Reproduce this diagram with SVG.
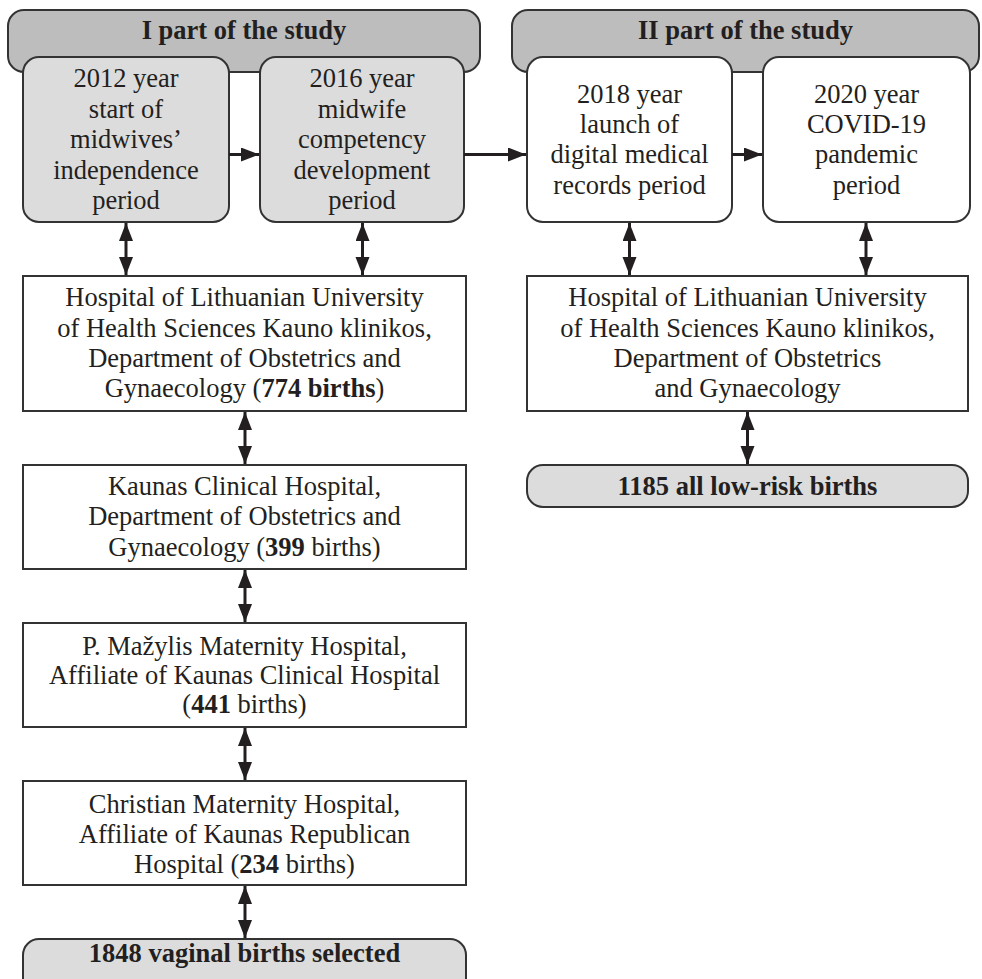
<svg xmlns="http://www.w3.org/2000/svg" width="982" height="979" viewBox="0 0 982 979">
<style>
  text { font-family: "Liberation Serif", "Times New Roman", serif; font-size: 26.5px; fill: #231f20; text-anchor: middle; }
  .b { font-weight: bold; }
  .hdr { fill: #bdbdbd; stroke: #333; stroke-width: 2; }
  .p1 { fill: #dcdcdd; stroke: #333; stroke-width: 2; }
  .p2 { fill: #ffffff; stroke: #333; stroke-width: 2; }
  .box { fill: #ffffff; stroke: #333; stroke-width: 2; }
  .res { fill: #dcdcdd; stroke: #333; stroke-width: 2; }
  .conn { stroke: #231f20; stroke-width: 3; fill: none; }
</style>
<defs>
  <marker id="ah" markerUnits="userSpaceOnUse" markerWidth="19" markerHeight="15" refX="18" refY="7" orient="auto-start-reverse">
    <path d="M0,0 L18,7 L0,14 z" fill="#231f20"/>
  </marker>
</defs>
<rect width="982" height="979" fill="#ffffff"/>

<g id="header1">
  <rect class="hdr" x="8" y="10" width="472" height="62" rx="16"/>
  <text class="b" x="244" y="39">I part of the study</text>
</g>
<g id="header2">
  <rect class="hdr" x="512" y="10" width="467" height="62" rx="16"/>
  <text class="b" x="745.5" y="39">II part of the study</text>
</g>

<g id="p2012">
  <rect class="p1" x="23" y="57" width="206" height="165" rx="16"/>
  <text x="126" y="87">2012 year</text>
  <text x="126" y="118">start of</text>
  <text x="126" y="148">midwives’</text>
  <text x="126" y="179">independence</text>
  <text x="126" y="209">period</text>
</g>
<g id="p2016">
  <rect class="p1" x="260" y="57" width="204" height="165" rx="16"/>
  <text x="362" y="87">2016 year</text>
  <text x="362" y="118">midwife</text>
  <text x="362" y="148">competency</text>
  <text x="362" y="179">development</text>
  <text x="362" y="209">period</text>
</g>
<g id="p2018">
  <rect class="p2" x="527" y="57" width="205" height="165" rx="16"/>
  <text x="629.5" y="103">2018 year</text>
  <text x="629.5" y="133">launch of</text>
  <text x="629.5" y="163">digital medical</text>
  <text x="629.5" y="194">records period</text>
</g>
<g id="p2020">
  <rect class="p2" x="763" y="57" width="207" height="165" rx="16"/>
  <text x="866.5" y="103">2020 year</text>
  <text x="866.5" y="133">COVID-19</text>
  <text x="866.5" y="163">pandemic</text>
  <text x="866.5" y="194">period</text>
</g>

<g id="hosp1">
  <rect class="box" x="23" y="276" width="443" height="135"/>
  <text x="244.5" y="306">Hospital of Lithuanian University</text>
  <text x="244.5" y="337">of Health Sciences Kauno klinikos,</text>
  <text x="244.5" y="367">Department of Obstetrics and</text>
  <text x="244.5" y="397">Gynaecology (<tspan class="b">774 births</tspan>)</text>
</g>
<g id="kaunas">
  <rect class="box" x="23" y="465" width="443" height="104"/>
  <text x="244.5" y="495">Kaunas Clinical Hospital,</text>
  <text x="244.5" y="525">Department of Obstetrics and</text>
  <text x="244.5" y="556">Gynaecology (<tspan class="b">399</tspan> births)</text>
</g>
<g id="mazylis">
  <rect class="box" x="23" y="623" width="443" height="104"/>
  <text x="244.5" y="655">P. Mažylis Maternity Hospital,</text>
  <text x="244.5" y="684">Affiliate of Kaunas Clinical Hospital</text>
  <text x="244.5" y="713">(<tspan class="b">441</tspan> births)</text>
</g>
<g id="christian">
  <rect class="box" x="23" y="781" width="443" height="104"/>
  <text x="244.5" y="813">Christian Maternity Hospital,</text>
  <text x="244.5" y="843">Affiliate of Kaunas Republican</text>
  <text x="244.5" y="873">Hospital (<tspan class="b">234</tspan> births)</text>
</g>
<g id="result1">
  <rect class="res" x="23" y="939" width="443" height="56" rx="16"/>
  <text class="b" x="244.5" y="962">1848 vaginal births selected</text>
</g>

<g id="hosp2">
  <rect class="box" x="527" y="276" width="441" height="135"/>
  <text x="747.5" y="306">Hospital of Lithuanian University</text>
  <text x="747.5" y="337">of Health Sciences Kauno klinikos,</text>
  <text x="747.5" y="367">Department of Obstetrics</text>
  <text x="747.5" y="397">and Gynaecology</text>
</g>
<g id="result2">
  <rect class="res" x="527" y="465" width="441" height="42" rx="16"/>
  <text class="b" x="747.5" y="495">1185 all low-risk births</text>
</g>

<g id="connectors">
  <line class="conn" x1="229" y1="154.5" x2="259" y2="154.5" marker-end="url(#ah)"/>
  <line class="conn" x1="464" y1="154.5" x2="526" y2="154.5" marker-end="url(#ah)"/>
  <line class="conn" x1="732" y1="154.5" x2="762" y2="154.5" marker-end="url(#ah)"/>
  <line class="conn" x1="126" y1="223" x2="126" y2="275" marker-start="url(#ah)" marker-end="url(#ah)"/>
  <line class="conn" x1="362.5" y1="223" x2="362.5" y2="275" marker-start="url(#ah)" marker-end="url(#ah)"/>
  <line class="conn" x1="629.5" y1="223" x2="629.5" y2="275" marker-start="url(#ah)" marker-end="url(#ah)"/>
  <line class="conn" x1="866" y1="223" x2="866" y2="275" marker-start="url(#ah)" marker-end="url(#ah)"/>
  <line class="conn" x1="245" y1="412" x2="245" y2="464" marker-start="url(#ah)" marker-end="url(#ah)"/>
  <line class="conn" x1="245" y1="570" x2="245" y2="622" marker-start="url(#ah)" marker-end="url(#ah)"/>
  <line class="conn" x1="245" y1="728" x2="245" y2="780" marker-start="url(#ah)" marker-end="url(#ah)"/>
  <line class="conn" x1="245" y1="886" x2="245" y2="938" marker-start="url(#ah)" marker-end="url(#ah)"/>
  <line class="conn" x1="747.5" y1="412" x2="747.5" y2="464" marker-start="url(#ah)" marker-end="url(#ah)"/>
</g>
</svg>
